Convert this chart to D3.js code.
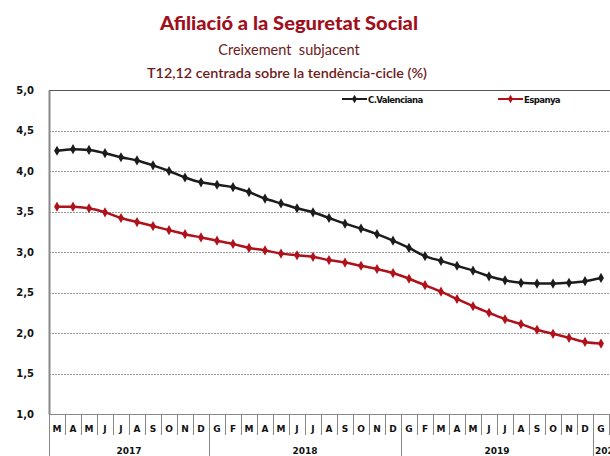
<!DOCTYPE html>
<html>
<head>
<meta charset="utf-8">
<script src="https://cdn.jsdelivr.net/npm/d3@7"></script>
<style>
  body { margin: 0; background: #fff; }
  svg { display: block; }
</style>
</head>
<body>
<svg id="chart" width="610" height="456"></svg>
<script>
// months from March 2017 to January 2020 (catalan initials)
const months = ["M","A","M","J","J","A","S","O","N","D",
  "G","F","M","A","M","J","J","A","S","O","N","D",
  "G","F","M","A","M","J","J","A","S","O","N","D",
  "G"];
const years = [
  { label: "2017", from: 0, to: 10 },
  { label: "2018", from: 10, to: 22 },
  { label: "2019", from: 22, to: 34 },
  { label: "2020", from: 34, to: 35 }
];
const valenciana = [4.25, 4.27, 4.26, 4.22, 4.17, 4.13, 4.07, 4.00, 3.92, 3.86,
  3.83, 3.80, 3.74, 3.66, 3.60, 3.54, 3.49, 3.42, 3.35, 3.29,
  3.22, 3.14, 3.05, 2.95, 2.89, 2.83, 2.77, 2.70, 2.65, 2.62,
  2.61, 2.61, 2.62, 2.64, 2.68];
const espanya = [3.56, 3.56, 3.54, 3.49, 3.42, 3.37, 3.32, 3.27, 3.22, 3.18,
  3.14, 3.10, 3.05, 3.02, 2.98, 2.96, 2.94, 2.90, 2.87, 2.83,
  2.79, 2.74, 2.67, 2.59, 2.51, 2.42, 2.33, 2.25, 2.17, 2.11,
  2.04, 1.99, 1.94, 1.89, 1.87];
const yTicks = [1.0, 1.5, 2.0, 2.5, 3.0, 3.5, 4.0, 4.5, 5.0];

const series = [
  { name: "C.Valenciana", values: valenciana, color: "#1c1c1c", lx: 342 },
  { name: "Espanya", values: espanya, color: "#b0121b", lx: 498 }
];

const svg = d3.select("#chart");
const plotLeft = 49, plotTop = 90, plotBottom = 414, cell = 16;

const x = d3.scaleBand()
  .domain(d3.range(months.length))
  .range([plotLeft, plotLeft + cell * months.length])
  .padding(0);
const y = d3.scaleLinear().domain([1, 5]).range([plotBottom, plotTop]);

// titles
svg.append("text")
  .attr("x", 289).attr("y", 30)
  .attr("text-anchor", "middle")
  .style("font-family", "Lato, 'Open Sans', sans-serif")
  .style("font-weight", "900")
  .style("font-size", "19.5px")
  .style("fill", "#a0101c")
  .attr("textLength", 258)
  .attr("lengthAdjust", "spacingAndGlyphs")
  .text("Afiliació a la Seguretat Social");
svg.append("text")
  .attr("x", 289).attr("y", 55)
  .attr("text-anchor", "middle")
  .style("font-family", "Lato, 'Open Sans', sans-serif")
  .style("font-size", "14.5px")
  .style("fill", "#6e1a1a")
  .style("white-space", "pre")
  .text("Creixement  subjacent");
svg.append("text")
  .attr("x", 287).attr("y", 78)
  .attr("text-anchor", "middle")
  .style("font-family", "Lato, 'Open Sans', sans-serif")
  .style("font-size", "13.5px")
  .style("font-weight", "600")
  .style("fill", "#6e1a1a")
  .attr("textLength", 280)
  .attr("lengthAdjust", "spacingAndGlyphs")
  .text("T12,12 centrada sobre la tendència-cicle (%)");

// grid
svg.append("g")
  .selectAll("line")
  .data(yTicks.filter(d => d > 1 && d < 5))
  .join("line")
  .attr("x1", plotLeft).attr("x2", 610)
  .attr("y1", d => Math.round(y(d)) + 0.5)
  .attr("y2", d => Math.round(y(d)) + 0.5)
  .style("stroke", "#9a9a9a")
  .style("stroke-width", 1)
  .style("stroke-dasharray", "2,1");

// top border and bottom axis
svg.append("line")
  .attr("x1", plotLeft).attr("x2", 610)
  .attr("y1", plotTop + 0.5).attr("y2", plotTop + 0.5)
  .style("stroke", "#555").style("stroke-width", 1.2);
svg.append("line")
  .attr("x1", plotLeft).attr("x2", 610)
  .attr("y1", plotBottom + 0.5).attr("y2", plotBottom + 0.5)
  .style("stroke", "#888").style("stroke-width", 1.2);

// y axis
const yAxis = svg.append("g")
  .attr("transform", `translate(${plotLeft},0)`)
  .call(d3.axisLeft(y).tickValues(yTicks).tickSize(0).tickPadding(15)
    .tickFormat(d => d3.format(".1f")(d).replace(".", ",")));
yAxis.select(".domain").style("stroke", "#888").style("stroke-width", 2);
yAxis.selectAll("text")
  .style("font-family", "'DejaVu Sans', sans-serif")
  .style("font-weight", "bold")
  .style("font-size", "10px")
  .style("fill", "#111");

// month cells
const xAxis = svg.append("g");
xAxis.selectAll("line.sep")
  .data(d3.range(months.length + 1))
  .join("line")
  .attr("class", "sep")
  .attr("x1", i => plotLeft + i * cell + 0.5)
  .attr("x2", i => plotLeft + i * cell + 0.5)
  .attr("y1", plotBottom)
  .attr("y2", i => years.some(yr => yr.from === i) ? 456 : plotBottom + 21)
  .style("stroke", "#888")
  .style("stroke-width", 1);
xAxis.selectAll("text.month")
  .data(months)
  .join("text")
  .attr("class", "month")
  .attr("x", (d, i) => x(i) + x.bandwidth() / 2)
  .attr("y", 432)
  .attr("text-anchor", "middle")
  .style("font-family", "'DejaVu Sans', sans-serif")
  .style("font-weight", "bold")
  .style("font-size", "9px")
  .style("fill", "#111")
  .text(d => d);
xAxis.selectAll("text.year")
  .data(years)
  .join("text")
  .attr("class", "year")
  .attr("x", d => d.to - d.from > 1 ? plotLeft + (d.from + d.to) / 2 * cell : plotLeft + d.from * cell + 2)
  .attr("y", 454)
  .attr("text-anchor", d => d.to - d.from > 1 ? "middle" : "start")
  .style("font-family", "'DejaVu Sans', sans-serif")
  .style("font-weight", "bold")
  .style("font-size", "9px")
  .style("fill", "#111")
  .text(d => d.label);

// lines
const line = d3.line()
  .x((d, i) => x(i) + x.bandwidth() / 2)
  .y(d => y(d))
  .curve(d3.curveMonotoneX);
const diamond = d3.symbol().type(d3.symbolDiamond).size(30);

series.forEach(s => {
  const g = svg.append("g");
  g.append("path")
    .datum(s.values)
    .attr("d", line)
    .style("fill", "none")
    .style("stroke", s.color)
    .style("stroke-width", 2.5);
  g.selectAll("path.mark")
    .data(s.values)
    .join("path")
    .attr("class", "mark")
    .attr("d", diamond)
    .attr("transform", (d, i) => `translate(${x(i) + x.bandwidth() / 2},${y(d)})`)
    .style("fill", s.color);

  // legend
  const lg = svg.append("g").attr("transform", `translate(${s.lx},99)`);
  lg.append("line")
    .attr("x1", 0).attr("x2", 25)
    .style("stroke", s.color).style("stroke-width", 2);
  lg.append("path")
    .attr("d", d3.symbol().type(d3.symbolDiamond).size(22))
    .attr("transform", "translate(12.5,0)")
    .style("fill", s.color);
  lg.append("text")
    .attr("x", 26).attr("y", 3.5)
    .style("font-family", "'DejaVu Sans Condensed', 'DejaVu Sans', sans-serif")
    .style("font-weight", "bold")
    .style("font-size", "9.5px")
    .style("letter-spacing", "-0.6px")
    .style("fill", "#111")
    .text(s.name);
});
</script>
</body>
</html>
